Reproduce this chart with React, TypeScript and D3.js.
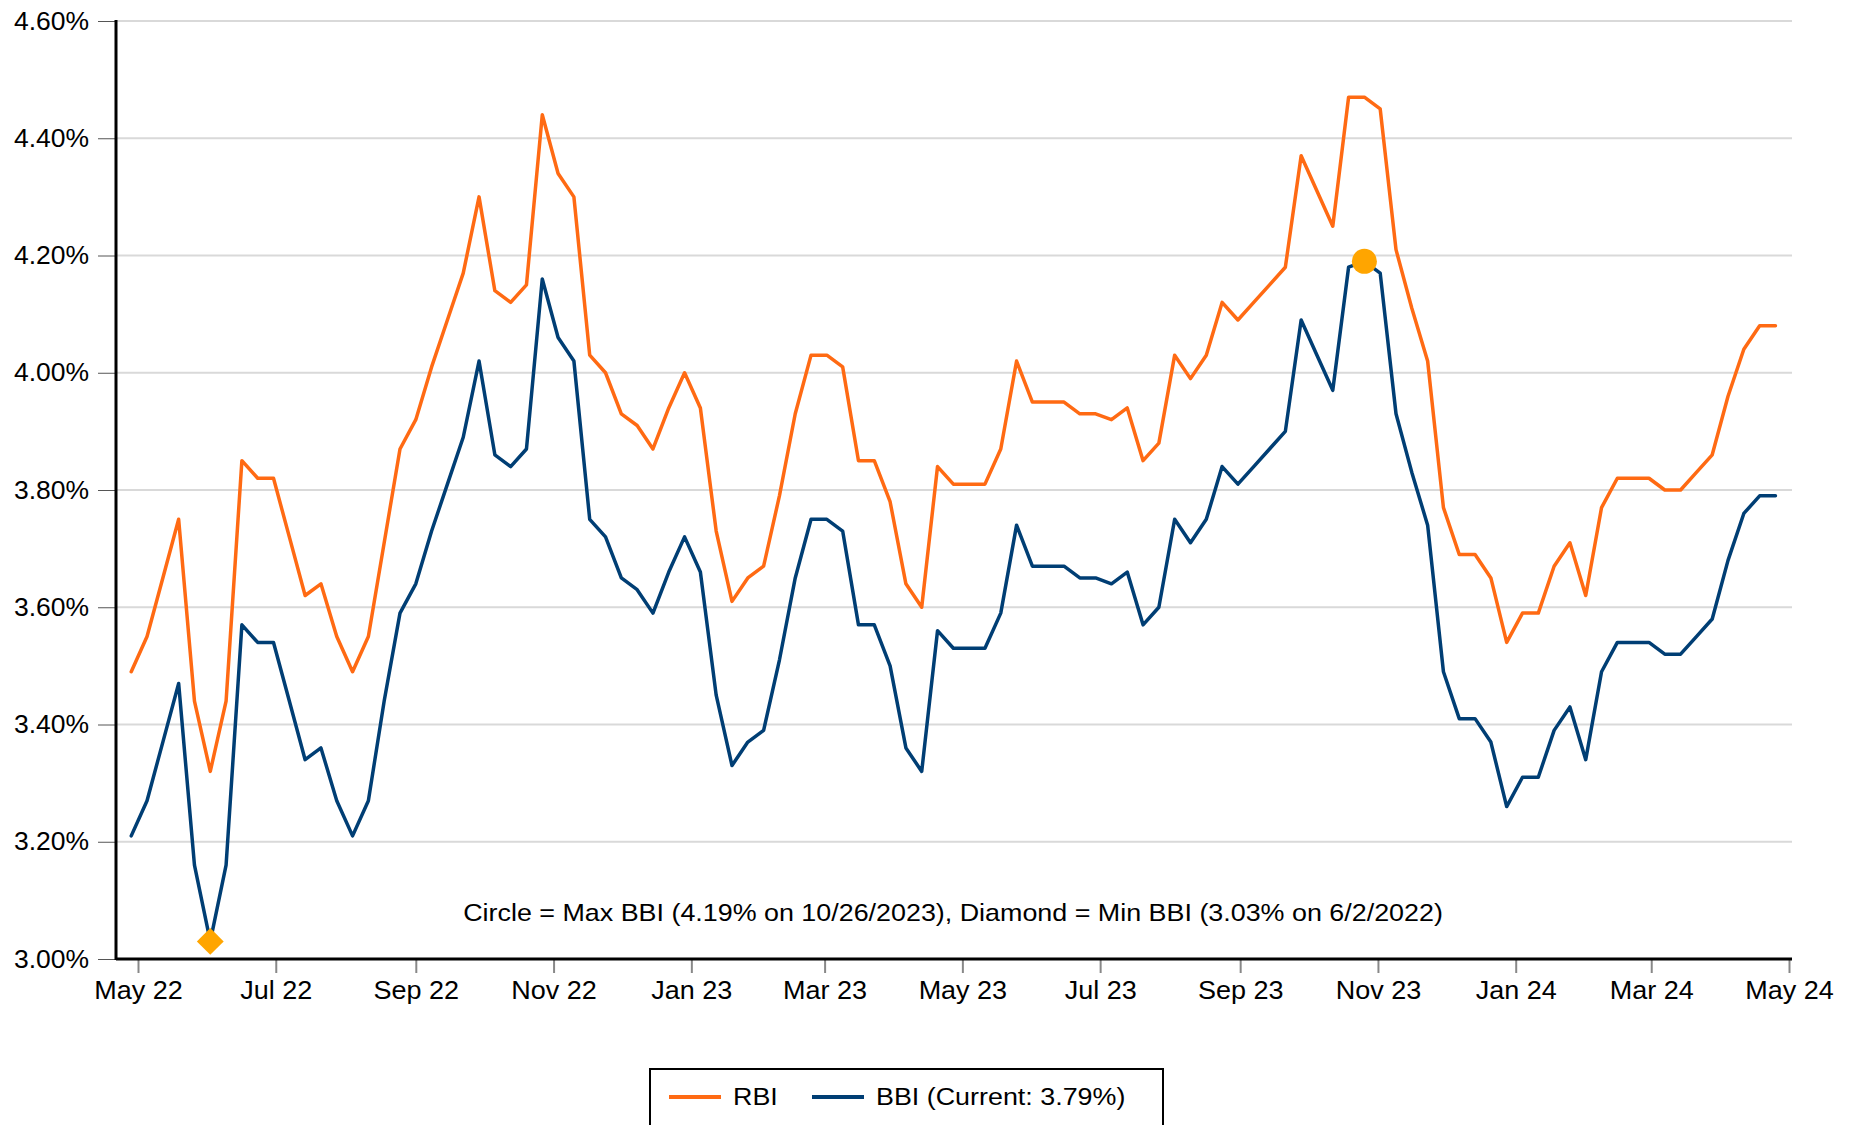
import * as d3 from 'd3'
import React, { useEffect, useRef } from 'react'

// weekly readings (Thursdays), first one 4/28/2022
const startDate = new Date(2022, 3, 28)

const rbi = [
  3.49, 3.55, 3.65, 3.75, 3.44, 3.32, 3.44, 3.85, 3.82, 3.82, 3.72, 3.62, 3.64, 3.55, 3.49, 3.55, 3.71, 3.87, 3.92,
  4.01, 4.09, 4.17, 4.3, 4.14, 4.12, 4.15, 4.44, 4.34, 4.3, 4.03, 4.0, 3.93, 3.91, 3.87, 3.94, 4.0, 3.94, 3.73,
  3.61, 3.65, 3.67, 3.79, 3.93, 4.03, 4.03, 4.01, 3.85, 3.85, 3.78, 3.64, 3.6, 3.84, 3.81, 3.81, 3.81, 3.87, 4.02,
  3.95, 3.95, 3.95, 3.93, 3.93, 3.92, 3.94, 3.85, 3.88, 4.03, 3.99, 4.03, 4.12, 4.09, 4.12, 4.15, 4.18, 4.37,
  4.31, 4.25, 4.47, 4.47, 4.45, 4.21, 4.11, 4.02, 3.77, 3.69, 3.69, 3.65, 3.54, 3.59, 3.59, 3.67, 3.71, 3.62, 3.77,
  3.82, 3.82, 3.82, 3.8, 3.8, 3.83, 3.86, 3.96, 4.04, 4.08, 4.08,
]

const bbi = [
  3.21, 3.27, 3.37, 3.47, 3.16, 3.03, 3.16, 3.57, 3.54, 3.54, 3.44, 3.34, 3.36, 3.27, 3.21, 3.27, 3.44, 3.59, 3.64,
  3.73, 3.81, 3.89, 4.02, 3.86, 3.84, 3.87, 4.16, 4.06, 4.02, 3.75, 3.72, 3.65, 3.63, 3.59, 3.66, 3.72, 3.66, 3.45,
  3.33, 3.37, 3.39, 3.51, 3.65, 3.75, 3.75, 3.73, 3.57, 3.57, 3.5, 3.36, 3.32, 3.56, 3.53, 3.53, 3.53, 3.59, 3.74,
  3.67, 3.67, 3.67, 3.65, 3.65, 3.64, 3.66, 3.57, 3.6, 3.75, 3.71, 3.75, 3.84, 3.81, 3.84, 3.87, 3.9, 4.09,
  4.03, 3.97, 4.18, 4.19, 4.17, 3.93, 3.83, 3.74, 3.49, 3.41, 3.41, 3.37, 3.26, 3.31, 3.31, 3.39, 3.43, 3.34, 3.49,
  3.54, 3.54, 3.54, 3.52, 3.52, 3.55, 3.58, 3.68, 3.76, 3.79, 3.79,
]

const yTicks = [3.0, 3.2, 3.4, 3.6, 3.8, 4.0, 4.2, 4.4, 4.6]
const xTicks = [
  new Date(2022, 4, 1), new Date(2022, 6, 1), new Date(2022, 8, 1), new Date(2022, 10, 1),
  new Date(2023, 0, 1), new Date(2023, 2, 1), new Date(2023, 4, 1), new Date(2023, 6, 1),
  new Date(2023, 8, 1), new Date(2023, 10, 1), new Date(2024, 0, 1), new Date(2024, 2, 1),
  new Date(2024, 4, 1),
]

const maxDate = new Date(2023, 9, 26)
const minDate = new Date(2022, 5, 2)
const note = 'Circle = Max BBI (4.19% on 10/26/2023), Diamond = Min BBI (3.03% on 6/2/2022)'

const ORANGE = '#ff6a13'
const NAVY = '#003e74'
const GOLD = '#ffa500'
const FONT = '"Liberation Sans", Arial, sans-serif'

const W = 1854
const H = 1125

const App = () => {
  const ref = useRef<SVGSVGElement>(null)

  useEffect(() => {
    const svg = d3.select(ref.current)
    svg.selectAll('*').remove()

    const left = 116
    const right = 1792
    const top = 21
    const bottom = 959

    const dates = rbi.map((_, i) => d3.timeDay.offset(startDate, i * 7))

    const x = d3.scaleTime().domain([xTicks[0], xTicks[xTicks.length - 1]]).range([138, 1789])
    const y = d3.scaleLinear().domain([3.0, 4.6]).range([bottom, top])

    // gridlines
    svg
      .append('g')
      .selectAll('line')
      .data(yTicks.slice(1))
      .join('line')
      .attr('x1', left)
      .attr('x2', right)
      .attr('y1', (d) => y(d))
      .attr('y2', (d) => y(d))
      .attr('stroke', '#d9d9d9')
      .attr('stroke-width', 2)

    // y axis (labels a bit wider than the font's natural width)
    const ySx = 1.06
    const yAxis = svg
      .append('g')
      .attr('transform', `translate(${left},0)`)
      .call(
        d3
          .axisLeft(y)
          .tickValues(yTicks)
          .tickSize(18)
          .tickPadding(10)
          .tickFormat((d) => `${(d as number).toFixed(2)}%`)
      )
    yAxis.select('.domain').remove()
    yAxis.selectAll('.tick line').attr('stroke', '#555').attr('stroke-width', 1)
    yAxis
      .selectAll('.tick text')
      .attr('x', -27 / ySx)
      .attr('transform', `scale(${ySx},1)`)
      .attr('font-family', FONT)
      .attr('font-size', 25)
      .attr('fill', '#000')

    // x axis
    const xAxis = svg
      .append('g')
      .attr('transform', `translate(0,${bottom})`)
      .call(
        d3
          .axisBottom(x)
          .tickValues(xTicks)
          .tickSize(14)
          .tickPadding(8)
          .tickFormat((d) => d3.timeFormat('%b %y')(d as Date))
      )
    xAxis.select('.domain').remove()
    xAxis.selectAll('.tick line').attr('stroke', '#888').attr('stroke-width', 2)
    xAxis
      .selectAll('.tick text')
      .attr('transform', 'scale(1.08,1)')
      .attr('font-family', FONT)
      .attr('font-size', 25)
      .attr('fill', '#000')

    // axis lines
    svg
      .append('line')
      .attr('x1', left)
      .attr('x2', left)
      .attr('y1', top - 1)
      .attr('y2', bottom + 1)
      .attr('stroke', '#000')
      .attr('stroke-width', 3)
    svg
      .append('line')
      .attr('x1', left)
      .attr('x2', right)
      .attr('y1', bottom)
      .attr('y2', bottom)
      .attr('stroke', '#000')
      .attr('stroke-width', 3)

    const line = d3
      .line<number>()
      .x((_, i) => x(dates[i]))
      .y((d) => y(d))

    svg
      .append('path')
      .datum(rbi)
      .attr('d', line)
      .attr('fill', 'none')
      .attr('stroke', ORANGE)
      .attr('stroke-width', 3.5)
      .attr('stroke-linejoin', 'round')
      .attr('stroke-linecap', 'round')

    svg
      .append('path')
      .datum(bbi)
      .attr('d', line)
      .attr('fill', 'none')
      .attr('stroke', NAVY)
      .attr('stroke-width', 3.5)
      .attr('stroke-linejoin', 'round')
      .attr('stroke-linecap', 'round')

    // max / min markers
    const maxI = dates.findIndex((d) => +d === +maxDate)
    const minI = dates.findIndex((d) => +d === +minDate)

    svg
      .append('circle')
      .attr('cx', x(dates[maxI]))
      .attr('cy', y(bbi[maxI]))
      .attr('r', 12.5)
      .attr('fill', GOLD)

    svg
      .append('path')
      .attr('d', d3.symbol(d3.symbolSquare, 360)())
      .attr('transform', `translate(${x(dates[minI])},${y(bbi[minI])}) rotate(45)`)
      .attr('fill', GOLD)

    // annotation
    svg
      .append('text')
      .attr('transform', 'translate(953,913) scale(1.12,1)')
      .attr('dy', '0.35em')
      .attr('text-anchor', 'middle')
      .attr('font-family', FONT)
      .attr('font-size', 24)
      .attr('fill', '#000')
      .text(note)

    // legend
    const legend = svg.append('g')
    legend
      .append('rect')
      .attr('x', 650)
      .attr('y', 1069)
      .attr('width', 513)
      .attr('height', 58)
      .attr('fill', '#fff')
      .attr('stroke', '#000')
      .attr('stroke-width', 2)

    const items = [
      { label: 'RBI', color: ORANGE, x0: 669 },
      { label: 'BBI (Current: 3.79%)', color: NAVY, x0: 812 },
    ]
    items.forEach((it) => {
      legend
        .append('line')
        .attr('x1', it.x0)
        .attr('x2', it.x0 + 52)
        .attr('y1', 1097)
        .attr('y2', 1097)
        .attr('stroke', it.color)
        .attr('stroke-width', 4)
      legend
        .append('text')
        .attr('transform', `translate(${it.x0 + 64},1097) scale(1.12,1)`)
        .attr('dy', '0.35em')
        .attr('font-family', FONT)
        .attr('font-size', 24)
        .attr('fill', '#000')
        .text(it.label)
    })
  }, [])

  return <svg ref={ref} width={W} height={H} style={{ position: 'absolute', left: 0, top: 0, background: '#fff' }} />
}

export default App
